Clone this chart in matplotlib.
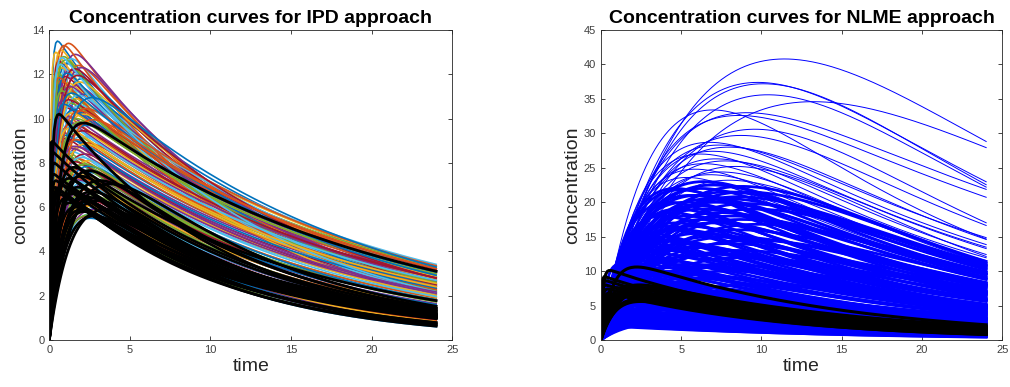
import numpy as np
import matplotlib
matplotlib.use("Agg")
import matplotlib.pyplot as plt

plt.rcParams['font.family'] = ['Liberation Sans', 'DejaVu Sans']

# ---- curve parameters: peak value, time of peak, value at t=24
# IPD approach, coloured curves
ipd_cmax = [13.5, 13.4, 13.1, 12.9, 12.8, 12.7, 12.6, 12.5, 12.4, 12.3, 12.2, 12.1,
            12.0, 11.9, 11.8, 11.7, 11.6, 11.5, 11.4, 11.3, 11.2, 11.1, 11.0, 10.9,
            10.8, 10.7, 10.6, 10.5, 10.4, 10.3, 10.2, 10.1, 10.0, 9.9, 9.8, 9.7,
            9.6, 9.5, 9.4, 9.3, 9.2, 9.1, 9.0, 8.9, 8.8, 8.7, 8.6, 8.5,
            8.4, 8.3, 8.2, 8.1, 8.0, 7.9, 7.8, 7.7, 7.6, 7.5, 7.4, 7.3,
            7.2, 7.1, 7.0, 6.9, 6.8, 6.7, 6.6, 6.5, 6.4, 6.3, 6.2, 6.1,
            6.0, 5.9, 5.8, 5.7, 5.6, 5.5,
            13.3, 13.0, 12.3, 12.65, 12.45, 12.25, 12.05, 11.85, 11.65, 11.45,
            11.25, 11.05, 10.85, 10.65, 10.45, 10.25, 10.05, 9.85, 9.65, 9.45,
            9.25, 9.05, 8.85, 8.65, 8.45, 8.25, 8.05, 7.85, 7.65, 7.45,
            7.25, 7.05, 6.85, 6.65, 6.45, 6.25, 6.05, 5.85, 5.65, 12.75,
            11.95, 11.15, 10.35, 9.55, 8.75, 7.95, 7.15, 6.35, 10.95, 9.95]
ipd_tmax = [0.5, 1.2, 0.7, 1.6, 0.9, 1.4, 0.6, 1.1, 1.8, 0.8, 1.3, 0.5,
            1.5, 1.0, 2.0, 0.7, 1.2, 1.7, 0.9, 1.4, 0.6, 2.2, 1.1, 1.6,
            0.8, 1.3, 1.9, 1.0, 1.5, 0.7, 2.1, 1.2, 1.7, 0.9, 1.4, 2.3,
            1.1, 1.8, 0.8, 1.5, 2.0, 1.0, 1.6, 2.4, 1.2, 1.9, 0.9, 1.4,
            2.2, 1.1, 1.7, 2.5, 1.3, 2.0, 1.0, 1.6, 2.3, 1.2, 1.8, 2.6,
            1.4, 2.1, 1.1, 1.7, 2.4, 1.3, 2.0, 2.7, 1.5, 2.2, 1.8, 2.5,
            2.0, 2.8, 2.3, 2.6, 2.4, 2.6,
            0.9, 0.4, 2.0, 1.0, 0.7, 1.6, 1.1, 0.6, 1.9, 1.3,
            0.8, 1.8, 1.2, 0.9, 2.3, 1.4, 0.8, 1.9, 1.3, 2.1,
            1.0, 1.7, 2.2, 1.4, 0.9, 2.0, 1.6, 2.4, 1.3, 2.1,
            1.6, 2.6, 1.9, 1.5, 2.3, 2.0, 2.6, 2.2, 2.5, 0.8,
            1.8, 1.4, 1.9, 1.2, 1.6, 2.2, 1.8, 2.4, 2.6, 2.7]
ipd_c24 = [2.0, 2.3, 2.0, 2.4, 2.1, 2.3, 1.95, 2.25, 2.5, 2.1, 2.4, 2.05,
           2.55, 2.35, 2.7, 2.3, 2.6, 2.8, 2.55, 2.9, 2.65, 3.2, 3.0, 3.3,
           3.0, 3.35, 3.4, 3.2, 3.1, 2.9, 3.25, 2.95, 3.05, 2.7, 2.85, 3.0,
           2.6, 2.75, 2.4, 2.55, 2.65, 2.3, 2.45, 2.55, 2.15, 2.25, 1.95, 2.05,
           2.15, 1.8, 1.9, 2.0, 1.65, 1.75, 1.45, 1.55, 1.6, 1.35, 1.4, 1.45,
           1.2, 1.25, 1.05, 1.1, 1.15, 0.95, 1.0, 1.05, 0.88, 0.9, 0.82, 0.85,
           0.75, 0.78, 0.7, 0.68, 0.63, 0.6,
           2.1, 1.9, 2.5, 2.2, 2.1, 2.5, 2.4, 2.3, 2.85, 2.7,
           2.6, 3.1, 3.15, 3.05, 3.35, 3.0, 2.8, 2.95, 2.7, 2.8,
           2.35, 2.45, 2.4, 2.1, 1.85, 2.0, 1.75, 1.8, 1.45, 1.5,
           1.3, 1.35, 1.1, 0.95, 1.0, 0.85, 0.82, 0.72, 0.65, 2.15,
           2.75, 2.95, 3.2, 2.5, 2.2, 1.7, 1.3, 0.95, 3.3, 3.1]

# IPD approach, thick black curves
ipd_obs_cmax = [10.2, 9.8, 7.8, 7.65, 7.05, 6.7, 6.45, 6.25, 5.9, 5.6,
                9.0, 8.5, 8.0, 7.5, 7.2, 6.8, 6.9, 6.6, 7.0, 6.4,
                7.3, 6.6, 6.2, 6.9, 7.4, 6.3, 5.9, 7.2, 6.0, 5.8]
ipd_obs_tmax = [0.6, 2.1, 1.5, 2.5, 3.8, 2.6, 2.4, 2.3, 2.0, 2.8,
                0.15, 0.2, 0.3, 0.25, 0.4, 0.5, 0.35, 0.6, 0.8, 1.0,
                1.2, 1.5, 1.3, 1.8, 2.0, 3.0, 3.5, 3.2, 1.6, 2.2]
ipd_obs_c24 = [1.2, 3.05, 1.75, 1.45, 1.5, 1.3, 1.15, 1.0, 0.8, 0.7,
               1.1, 1.2, 1.05, 1.3, 1.05, 1.1, 1.0, 1.0, 1.3, 0.95,
               1.15, 1.0, 0.8, 1.2, 1.35, 1.1, 1.0, 1.4, 0.66, 0.62]

# NLME approach, distinct upper blue curves
nlme_top_cmax = [40.8, 34.6, 37.4, 37.2, 35.6, 33.0, 32.6, 33.4, 30.6, 29.7, 28.7, 28.3, 28.0,
                 27.4, 27.0, 26.3, 26.0, 25.6, 25.2, 24.8, 24.4, 24.0, 23.6, 23.2, 22.9, 22.6]
nlme_top_tmax = [11.4, 13.2, 9.8, 10.1, 10.4, 9.0, 8.5, 7.0, 9.6, 8.7, 6.7, 7.4, 8.0,
                 7.0, 6.2, 7.1, 7.8, 6.5, 8.4, 5.8, 7.5, 6.8, 5.4, 8.0, 6.0, 7.2]
nlme_top_c24 = [28.8, 27.9, 23.0, 22.5, 22.2, 21.8, 20.7, 14.7, 17.0, 16.6, 13.9, 14.8, 14.5,
                13.5, 12.0, 12.5, 13.2, 11.5, 12.2, 10.4, 11.0, 10.6, 9.6, 11.2, 9.8, 10.2]

# NLME approach, dense blue mass
nlme_cmax = [2.0, 2.4, 2.8, 3.3, 3.8, 4.3, 4.9, 5.5, 6.2, 7.0, 7.8, 8.6, 9.5, 10.5,
             3.0, 4.0, 5.0, 6.0, 7.0, 8.0, 9.0, 10.0, 11.0, 12.0, 13.0, 14.0, 15.0, 16.0,
             4.5, 6.0, 7.5, 9.0, 10.5, 12.0, 13.5, 15.0, 16.5, 17.5, 18.5, 19.5, 20.5, 21.5,
             22.0, 17.0, 19.0, 20.0, 21.0, 14.5, 11.5, 8.5, 18.0, 16.0, 14.0, 12.5, 20.8, 22.3,
             19.8, 10.0, 7.0, 5.5, 3.5, 2.5,
             2.2, 2.6, 3.0, 3.6, 4.1, 4.6, 5.2, 5.8, 6.6, 7.4, 8.2, 9.0, 10.0, 11.0,
             3.5, 4.5, 5.5, 6.5, 7.5, 8.5, 9.5, 10.5, 11.5, 12.5, 13.5, 14.5, 15.5, 16.5,
             5.0, 6.5, 8.0, 9.5, 11.0, 12.5, 14.0, 15.5, 17.0, 18.0, 19.0, 20.0, 21.0, 22.5,
             23.0, 21.8, 18.5, 16.0, 13.0, 10.5, 20.5, 17.5, 15.0, 13.0, 11.0, 9.0, 21.5, 19.0,
             16.8, 14.5, 12.0, 8.0, 6.0, 4.0, 3.0, 2.2, 2.6, 18.0, 20.0, 22.0, 15.0, 12.0]
nlme_tmax = [0.5, 0.8, 0.4, 1.0, 0.6, 1.2, 0.7, 1.4, 0.9, 1.5, 1.1, 1.6, 1.3, 1.8,
             2.5, 3.0, 2.2, 3.5, 2.6, 3.2, 2.4, 3.8, 2.8, 3.4, 4.0, 3.0, 3.6, 4.2,
             5.0, 6.0, 4.6, 5.5, 6.5, 5.0, 6.0, 7.0, 5.5, 6.5, 7.5, 5.8, 6.8, 7.8,
             6.2, 4.6, 4.8, 5.2, 5.6, 4.5, 4.2, 4.0, 8.2, 8.5, 8.0, 7.5, 8.6, 8.8,
             9.2, 8.0, 7.0, 8.5, 6.0, 3.5,
             0.3, 0.6, 0.9, 0.5, 0.9, 0.5, 1.1, 0.7, 1.3, 0.8, 1.4, 1.0, 1.6, 1.2,
             2.0, 2.6, 3.0, 2.2, 3.4, 2.8, 3.6, 2.5, 3.0, 3.8, 3.4, 3.8, 3.2, 4.0,
             4.5, 5.5, 5.0, 6.0, 5.5, 6.5, 5.2, 6.2, 7.0, 5.4, 6.2, 7.2, 6.0, 7.0,
             6.5, 5.0, 4.4, 5.0, 4.5, 4.0, 8.0, 8.8, 8.2, 8.6, 7.6, 7.2, 9.0, 9.6,
             9.8, 9.4, 9.0, 9.5, 7.5, 6.5, 4.5, 2.5, 5.0, 3.8, 4.2, 4.6, 2.8, 2.2]
nlme_c24 = [0.45, 0.5, 0.55, 0.65, 0.7, 0.85, 0.9, 1.1, 1.2, 1.4, 1.5, 1.8, 2.0, 2.3,
            0.8, 1.1, 1.3, 1.7, 1.9, 2.3, 2.5, 3.0, 3.1, 3.6, 4.0, 4.0, 4.6, 5.1,
            1.8, 2.6, 3.0, 3.8, 4.8, 5.0, 6.0, 7.0, 6.8, 7.8, 8.8, 8.0, 9.2, 10.5,
            9.6, 5.8, 6.6, 7.2, 8.0, 5.0, 4.0, 3.0, 9.8, 9.0, 7.8, 6.6, 11.0, 11.2,
            10.8, 5.2, 3.4, 3.0, 1.4, 0.7,
            0.42, 0.5, 0.6, 0.62, 0.8, 0.8, 1.0, 1.05, 1.3, 1.3, 1.7, 1.8, 2.2, 2.4,
            0.9, 1.3, 1.6, 1.8, 2.4, 2.6, 3.2, 3.0, 3.6, 4.3, 4.5, 5.0, 5.0, 5.8,
            2.0, 2.8, 3.4, 4.4, 4.8, 6.0, 5.6, 6.8, 8.0, 7.0, 8.2, 9.4, 8.8, 10.2,
            9.6, 8.0, 6.2, 6.4, 4.8, 3.8, 10.4, 9.6, 8.2, 7.4, 5.8, 4.6, 11.4, 10.8,
            9.9, 8.4, 6.9, 4.6, 2.9, 1.7, 1.0, 0.55, 0.9, 5.6, 6.6, 7.6, 4.2, 3.2]

# NLME approach, thick black curves
nlme_obs_cmax = [10.1, 10.6, 8.0, 7.8, 7.6, 7.4, 7.2, 7.0, 6.8, 6.5, 6.2, 5.9, 5.6,
                 9.2, 8.6, 8.0, 7.4, 6.8, 7.6, 6.4]
nlme_obs_tmax = [0.55, 2.2, 2.4, 1.8, 2.8, 2.2, 3.0, 1.6, 2.6, 2.0, 2.9, 2.4, 2.5,
                 0.2, 0.3, 0.25, 0.4, 0.5, 1.0, 1.2]
nlme_obs_c24 = [1.5, 2.2, 2.0, 1.8, 1.9, 1.6, 1.7, 1.4, 1.5, 1.2, 1.3, 1.0, 0.8,
                1.2, 1.1, 1.0, 0.9, 0.85, 1.3, 0.9]

time = np.linspace(0, 24, 241)

# one-compartment shape c = A(exp(-ke t) - exp(-ka t)); pick (ke, ka) matching peak time and end ratio
ke_g, r_g = np.meshgrid(np.logspace(-3, 0.5, 300), 1 + np.logspace(-4, 3, 300))
ka_g = ke_g * r_g
tm_g = np.log(r_g) / (ka_g - ke_g)
f24 = np.exp(-ke_g * 24) - np.exp(-ka_g * 24)
ftm = np.exp(-ke_g * tm_g) - np.exp(-ka_g * tm_g)
rat_g = f24 / ftm


def pk_curve(cmax, tmax, c24):
  err = np.log(tm_g / tmax) ** 2 + np.log(rat_g / (c24 / cmax)) ** 2
  i = np.unravel_index(np.argmin(err), err.shape)
  ke, ka, tm = ke_g[i], ka_g[i], tm_g[i]
  shape = np.exp(-ke * time) - np.exp(-ka * time)
  return cmax * shape / (np.exp(-ke * tm) - np.exp(-ka * tm))


matlab_colors = ['#0072BD', '#D95319', '#EDB120', '#7E2F8E', '#77AC30', '#4DBEEE', '#A2142F']

fig = plt.figure(figsize=(10.1, 3.87), dpi=100)
ax1 = fig.add_axes([0.0488, 0.1214, 0.399, 0.801])
ax2 = fig.add_axes([0.595, 0.1214, 0.3973, 0.801])

for k in range(len(ipd_cmax)):
  ax1.plot(time, pk_curve(ipd_cmax[k], ipd_tmax[k], ipd_c24[k]),
           color=matlab_colors[k % 7], linewidth=1.2)
for k in range(len(ipd_obs_cmax)):
  ax1.plot(time, pk_curve(ipd_obs_cmax[k], ipd_obs_tmax[k], ipd_obs_c24[k]),
           color='black', linewidth=2.0)

for k in range(len(nlme_cmax)):
  ax2.plot(time, pk_curve(nlme_cmax[k], nlme_tmax[k], nlme_c24[k]),
           color='#0000FF', linewidth=2.0)
for k in range(len(nlme_top_cmax)):
  ax2.plot(time, pk_curve(nlme_top_cmax[k], nlme_top_tmax[k], nlme_top_c24[k]),
           color='#0000FF', linewidth=0.7)
for k in range(len(nlme_obs_cmax)):
  ax2.plot(time, pk_curve(nlme_obs_cmax[k], nlme_obs_tmax[k], nlme_obs_c24[k]),
           color='black', linewidth=2.2)

for ax, title, ymax, ystep in [(ax1, 'Concentration curves for IPD approach', 14, 2),
                               (ax2, 'Concentration curves for NLME approach', 45, 5)]:
  ax.set_xlim(0, 25)
  ax.set_ylim(0, ymax)
  ax.set_xticks(range(0, 26, 5))
  ax.set_yticks(range(0, ymax + 1, ystep))
  ax.tick_params(direction='in', length=3, width=0.6, colors='#262626',
                 labelcolor='#404040', labelsize=8, top=True, right=True)
  for s in ax.spines.values():
    s.set_color('#262626')
    s.set_linewidth(0.6)
  ax.set_title(title, fontsize=14, fontweight='bold', pad=5)
  ax.set_xlabel('time', fontsize=14, color='#262626', labelpad=2)
  ax.set_ylabel('concentration', fontsize=14, color='#262626', labelpad=2)

fig.savefig('out.png', dpi=100)
